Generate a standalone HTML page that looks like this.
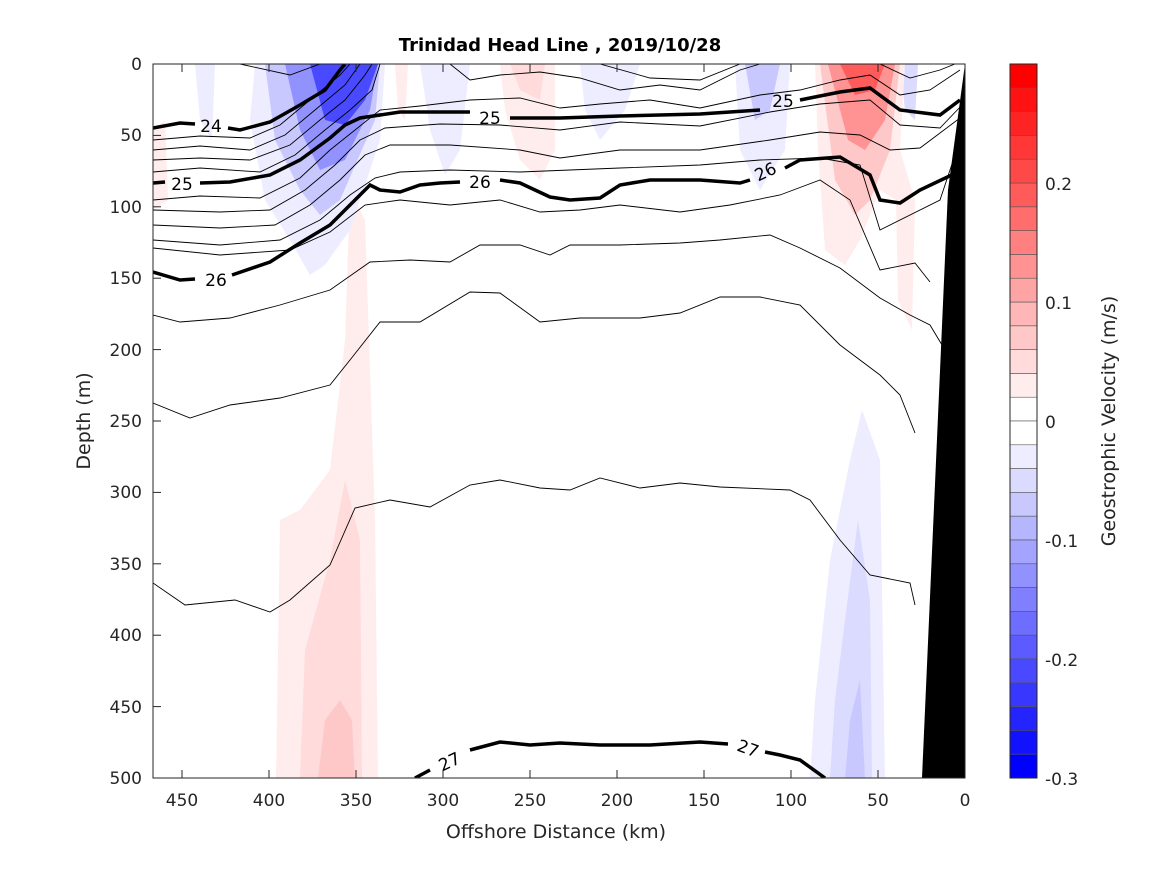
<!DOCTYPE html>
<html><head><meta charset="utf-8"><style>
html,body{margin:0;padding:0;background:#fff;}
svg{display:block;font-family:"DejaVu Sans","Liberation Sans",sans-serif;}
</style></head><body>
<svg width="1167" height="875" viewBox="0 0 1167 875" xmlns="http://www.w3.org/2000/svg">
<rect width="1167" height="875" fill="#fff"/>
<defs><clipPath id="pc"><rect x="153" y="64" width="812" height="714"/></clipPath></defs>
<g clip-path="url(#pc)">
<polygon points="276,778 280,520 300,510 330,470 345,340 350,190 365,220 375,520 378,778" fill="rgb(255,237,237)"/>
<polygon points="300,778 305,650 330,560 345,480 360,540 362,778" fill="rgb(255,219,219)"/>
<polygon points="318,778 325,720 340,700 352,720 355,778" fill="rgb(255,200,200)"/>
<polygon points="810,778 815,700 830,560 850,460 862,410 880,460 885,778" fill="rgb(237,237,255)"/>
<polygon points="830,778 835,700 845,620 858,520 870,600 872,778" fill="rgb(219,219,255)"/>
<polygon points="845,778 850,720 860,680 865,778" fill="rgb(200,200,255)"/>
<polygon points="255,64 385,64 380,140 350,230 325,265 310,275 290,240 265,200 250,120" fill="rgb(237,237,255)"/>
<polygon points="265,64 380,64 375,120 340,200 320,215 300,190 275,140" fill="rgb(200,200,255)"/>
<polygon points="285,64 378,64 370,110 345,160 320,170 300,130" fill="rgb(146,146,255)"/>
<polygon points="310,64 378,64 365,100 345,125 325,120" fill="rgb(73,73,255)"/>
<polygon points="195,64 215,64 212,140 200,120" fill="rgb(237,237,255)"/>
<polygon points="420,64 470,64 460,150 445,175 430,130" fill="rgb(237,237,255)"/>
<polygon points="580,64 640,64 625,110 600,140 585,110" fill="rgb(237,237,255)"/>
<polygon points="735,64 790,64 785,150 760,190 740,150" fill="rgb(237,237,255)"/>
<polygon points="745,64 780,64 770,110 755,120" fill="rgb(200,200,255)"/>
<polygon points="900,64 918,64 915,120 905,110" fill="rgb(219,219,255)"/>
<polygon points="500,64 555,64 555,150 540,180 520,160 505,110" fill="rgb(255,237,237)"/>
<polygon points="510,64 545,64 540,100 520,90" fill="rgb(255,219,219)"/>
<polygon points="395,64 408,64 405,120 398,110" fill="rgb(255,237,237)"/>
<polygon points="153,130 165,120 168,200 153,210" fill="rgb(255,237,237)"/>
<polygon points="815,64 905,64 900,150 915,200 912,330 898,300 896,200 880,190 860,240 845,265 825,250 818,150" fill="rgb(255,237,237)"/>
<polygon points="820,64 900,64 890,150 870,200 855,215 835,180" fill="rgb(255,200,200)"/>
<polygon points="828,64 895,64 885,120 865,150 848,140" fill="rgb(255,146,146)"/>
<polygon points="840,64 885,64 875,90 855,95" fill="rgb(255,91,91)"/>
<g fill="none" stroke="#000" stroke-width="0.9">
<polyline points="240,64 290,75 320,64"/>
<polyline points="153,140 200,136 250,138 280,125 310,100 340,75 350,64"/>
<polyline points="153,150 200,146 250,150 285,135 315,110 345,85 360,64"/>
<polyline points="153,160 200,158 250,160 290,145 320,120 345,100 365,75 372,64"/>
<polyline points="153,172 200,168 260,172 295,155 325,130 350,110 372,90 380,64"/>
<polyline points="153,200 200,196 260,198 300,178 330,150 355,130 380,110 420,106 470,100 520,98 560,108 600,104 650,100 700,108 760,95 800,90 840,80 870,75 900,95 930,90 960,70"/>
<polyline points="153,210 220,212 270,210 305,190 335,165 360,140 385,128 440,124 500,125 560,130 620,122 700,126 770,112 820,104 870,100 900,125 940,128 962,105"/>
<polyline points="153,225 220,228 275,225 310,205 340,180 365,155 390,145 450,145 520,150 560,158 620,150 700,150 770,140 820,132 860,135 890,150 920,148 960,118"/>
<polyline points="153,240 220,245 280,240 320,220 350,195 375,178 400,172 450,170 520,172 570,170 620,168 700,165 760,160 820,158 860,165 880,230 940,200 960,140"/>
<polyline points="153,248 220,255 290,250 330,232 365,205 400,200 450,205 500,200 540,212 580,210 620,205 680,212 730,205 780,195 820,180 850,200 880,270 915,263 930,282"/>
<polyline points="450,64 470,80 500,75 540,72 580,78 620,90 660,85 700,90 740,70 760,64"/>
<polyline points="600,64 650,78 700,80 740,64"/>
<polyline points="880,64 910,78 940,70 955,64"/>
<polyline points="153,315 180,322 230,318 280,305 330,290 370,262 410,260 450,262 480,245 520,245 550,255 570,245 620,245 680,243 720,240 770,235 800,248 840,268 880,298 910,315 930,325 945,350"/>
<polyline points="153,403 190,418 230,405 280,398 330,385 350,360 380,322 420,322 470,292 500,293 540,322 580,318 640,318 680,313 720,297 760,297 800,305 840,345 880,375 900,395 915,433"/>
<polyline points="153,583 185,605 235,600 270,612 290,600 330,565 355,508 390,500 430,507 470,485 500,480 540,488 570,490 600,478 640,488 680,483 720,487 790,490 810,500 840,540 870,575 910,583 915,605"/>
</g>
<g fill="none" stroke="#000" stroke-width="3.5">
<polyline points="153,128 180,123 195,124"/>
<polyline points="228,128 240,130 270,122 300,105 325,90 340,70 345,64"/>
<polyline points="153,183 165,182"/>
<polyline points="200,183 230,182 270,175 300,160 330,138 345,125 360,118 400,112 470,112"/>
<polyline points="510,118 560,118 620,116 700,114 760,110"/>
<polyline points="800,100 840,92 870,88 900,110 940,115 960,100"/>
<polyline points="153,272 180,280 195,279"/>
<polyline points="232,275 270,262 300,243 330,225 350,205 370,185 380,190 400,192 420,185 440,183 460,182"/>
<polyline points="500,180 520,183 550,197 570,200 600,198 620,185 650,180 700,180 740,183 750,180"/>
<polyline points="785,168 800,160 840,157 870,175 880,200 900,203 920,190 958,172"/>
<polyline points="415,778 430,770"/>
<polyline points="470,750 500,742 530,745 560,743 600,745 650,745 700,742 728,744"/>
<polyline points="765,752 780,755 800,760 825,778"/>
</g>
<g font-size="17" fill="#000" text-anchor="middle">
<text x="211" y="132">24</text>
<text x="182" y="190">25</text>
<text x="490" y="124">25</text>
<text x="783" y="107">25</text>
<text x="216" y="286">26</text>
<text x="480" y="188">26</text>
<text x="768" y="177" transform="rotate(-25 768 177)">26</text>
<text x="452" y="767" transform="rotate(-25 452 767)">27</text>
<text x="746" y="754" transform="rotate(20 746 754)">27</text>
</g>
<polygon points="922,778 948,190 965,64 965,778" fill="#000"/>
</g>
<rect x="153" y="64" width="812" height="714" fill="none" stroke="#262626" stroke-width="1"/>
<g stroke="#262626" stroke-width="1">
<line x1="182" y1="778" x2="182" y2="770"/><line x1="269" y1="778" x2="269" y2="770"/><line x1="356" y1="778" x2="356" y2="770"/><line x1="443" y1="778" x2="443" y2="770"/><line x1="530" y1="778" x2="530" y2="770"/><line x1="617" y1="778" x2="617" y2="770"/><line x1="704" y1="778" x2="704" y2="770"/><line x1="791" y1="778" x2="791" y2="770"/><line x1="878" y1="778" x2="878" y2="770"/>
<line x1="182" y1="64" x2="182" y2="72"/><line x1="269" y1="64" x2="269" y2="72"/><line x1="356" y1="64" x2="356" y2="72"/><line x1="443" y1="64" x2="443" y2="72"/><line x1="530" y1="64" x2="530" y2="72"/><line x1="617" y1="64" x2="617" y2="72"/><line x1="704" y1="64" x2="704" y2="72"/><line x1="791" y1="64" x2="791" y2="72"/><line x1="878" y1="64" x2="878" y2="72"/>
<line x1="153" y1="135.4" x2="161" y2="135.4"/><line x1="153" y1="206.8" x2="161" y2="206.8"/><line x1="153" y1="278.2" x2="161" y2="278.2"/><line x1="153" y1="349.6" x2="161" y2="349.6"/><line x1="153" y1="421" x2="161" y2="421"/><line x1="153" y1="492.4" x2="161" y2="492.4"/><line x1="153" y1="563.8" x2="161" y2="563.8"/><line x1="153" y1="635.2" x2="161" y2="635.2"/><line x1="153" y1="706.6" x2="161" y2="706.6"/>
</g>
<g font-size="17" fill="#262626" text-anchor="middle">
<text x="182" y="806">450</text><text x="269" y="806">400</text><text x="356" y="806">350</text><text x="443" y="806">300</text><text x="530" y="806">250</text><text x="617" y="806">200</text><text x="704" y="806">150</text><text x="791" y="806">100</text><text x="878" y="806">50</text><text x="965" y="806">0</text>
</g>
<g font-size="17" fill="#262626" text-anchor="end">
<text x="142" y="70">0</text><text x="142" y="141">50</text><text x="142" y="213">100</text><text x="142" y="284">150</text><text x="142" y="356">200</text><text x="142" y="427">250</text><text x="142" y="498">300</text><text x="142" y="570">350</text><text x="142" y="641">400</text><text x="142" y="713">450</text><text x="142" y="784">500</text>
</g>
<text x="556" y="838" font-size="19" fill="#262626" text-anchor="middle">Offshore Distance (km)</text>
<text x="90" y="421" font-size="19" fill="#262626" text-anchor="middle" transform="rotate(-90 90 421)">Depth (m)</text>
<text x="560" y="51" font-size="18" font-weight="bold" fill="#000" text-anchor="middle">Trinidad Head Line , 2019/10/28</text>
<g stroke="#555" stroke-width="0.6">
<rect x="1010" y="397.2" width="27" height="23.8" fill="rgb(255,255,255)"/>
<rect x="1010" y="373.4" width="27" height="23.8" fill="rgb(255,237,237)"/>
<rect x="1010" y="349.6" width="27" height="23.8" fill="rgb(255,219,219)"/>
<rect x="1010" y="325.8" width="27" height="23.8" fill="rgb(255,200,200)"/>
<rect x="1010" y="302" width="27" height="23.8" fill="rgb(255,182,182)"/>
<rect x="1010" y="278.2" width="27" height="23.8" fill="rgb(255,164,164)"/>
<rect x="1010" y="254.4" width="27" height="23.8" fill="rgb(255,146,146)"/>
<rect x="1010" y="230.6" width="27" height="23.8" fill="rgb(255,128,128)"/>
<rect x="1010" y="206.8" width="27" height="23.8" fill="rgb(255,109,109)"/>
<rect x="1010" y="183" width="27" height="23.8" fill="rgb(255,91,91)"/>
<rect x="1010" y="159.2" width="27" height="23.8" fill="rgb(255,73,73)"/>
<rect x="1010" y="135.4" width="27" height="23.8" fill="rgb(255,55,55)"/>
<rect x="1010" y="111.6" width="27" height="23.8" fill="rgb(255,36,36)"/>
<rect x="1010" y="87.8" width="27" height="23.8" fill="rgb(255,18,18)"/>
<rect x="1010" y="64" width="27" height="23.8" fill="rgb(255,0,0)"/>
<rect x="1010" y="421" width="27" height="23.8" fill="rgb(255,255,255)"/>
<rect x="1010" y="444.8" width="27" height="23.8" fill="rgb(237,237,255)"/>
<rect x="1010" y="468.6" width="27" height="23.8" fill="rgb(219,219,255)"/>
<rect x="1010" y="492.4" width="27" height="23.8" fill="rgb(200,200,255)"/>
<rect x="1010" y="516.2" width="27" height="23.8" fill="rgb(182,182,255)"/>
<rect x="1010" y="540" width="27" height="23.8" fill="rgb(164,164,255)"/>
<rect x="1010" y="563.8" width="27" height="23.8" fill="rgb(146,146,255)"/>
<rect x="1010" y="587.6" width="27" height="23.8" fill="rgb(128,128,255)"/>
<rect x="1010" y="611.4" width="27" height="23.8" fill="rgb(109,109,255)"/>
<rect x="1010" y="635.2" width="27" height="23.8" fill="rgb(91,91,255)"/>
<rect x="1010" y="659" width="27" height="23.8" fill="rgb(73,73,255)"/>
<rect x="1010" y="682.8" width="27" height="23.8" fill="rgb(55,55,255)"/>
<rect x="1010" y="706.6" width="27" height="23.8" fill="rgb(36,36,255)"/>
<rect x="1010" y="730.4" width="27" height="23.8" fill="rgb(18,18,255)"/>
<rect x="1010" y="754.2" width="27" height="23.8" fill="rgb(0,0,255)"/>
</g>
<rect x="1010" y="64" width="27" height="714" fill="none" stroke="#262626" stroke-width="1"/>
<g font-size="17" fill="#262626">
<text x="1045" y="190">0.2</text><text x="1045" y="309">0.1</text><text x="1045" y="428">0</text><text x="1045" y="547">-0.1</text><text x="1045" y="666">-0.2</text><text x="1045" y="785">-0.3</text>
</g>
<text x="1115" y="421" font-size="19" fill="#262626" text-anchor="middle" transform="rotate(-90 1115 421)">Geostrophic Velocity (m/s)</text>
</svg>
</body></html>
